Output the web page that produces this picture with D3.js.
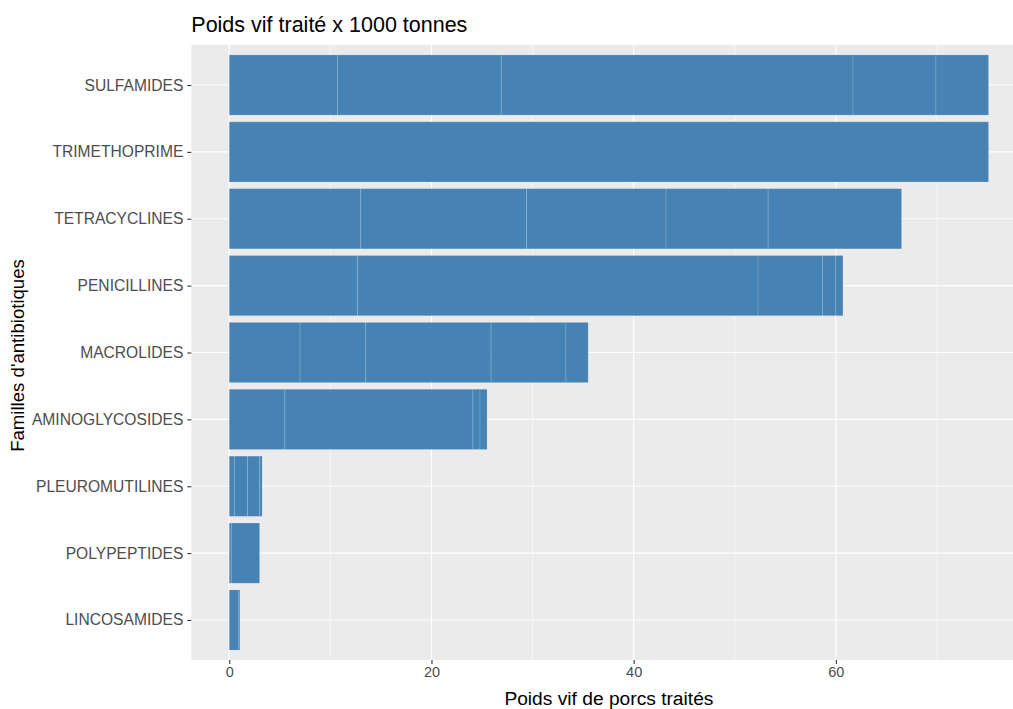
<!DOCTYPE html>
<html>
<head>
<meta charset="utf-8">
<script src="https://cdn.jsdelivr.net/npm/d3@7"></script>
<style>
  html, body { margin: 0; padding: 0; background: #fff; }
  svg { display: block; font-family: "Liberation Sans", Arial, sans-serif; }
</style>
</head>
<body>
<svg id="chart" width="1013" height="709"></svg>
<script>
// Categories (top to bottom)
const categories = ["SULFAMIDES", "TRIMETHOPRIME", "TETRACYCLINES", "PENICILLINES",
  "MACROLIDES", "AMINOGLYCOSIDES", "PLEUROMUTILINES", "POLYPEPTIDES", "LINCOSAMIDES"];

// Stacked segment values per category (x 1000 tonnes)
const sulfamides = [10.7, 16.2, 34.8, 8.2, 5.2];
const trimethoprime = [75.1];
const tetracyclines = [13.0, 16.4, 13.8, 10.1, 13.2];
const penicillines = [12.7, 39.6, 6.4, 1.3, 0.7];
const macrolides = [7.0, 6.5, 12.4, 7.4, 2.2];
const aminoglycosides = [5.5, 18.6, 0.7, 0.7];
const pleuromutilines = [0.5, 1.3, 1.2, 0.25];
const polypeptides = [0.2, 2.8];
const lincosamides = [0.95, 0.1];

const seriesValues = [sulfamides, trimethoprime, tetracyclines, penicillines,
  macrolides, aminoglycosides, pleuromutilines, polypeptides, lincosamides];

const xTicks = [0, 20, 40, 60];
const xMinorTicks = [10, 30, 50, 70];

const title = "Poids vif traité x 1000 tonnes";
const xTitle = "Poids vif de porcs traités";
const yTitle = "Familles d'antibiotiques";

// Build stacked segments
const segments = [];
categories.forEach((c, i) => {
  let acc = 0;
  seriesValues[i].forEach(v => {
    segments.push({cat: c, x0: acc, x1: acc + v});
    acc += v;
  });
});
const maxTotal = d3.max(seriesValues, s => d3.sum(s));

const svg = d3.select("#chart");
const panel = {left: 191.3, top: 44.9, bottom: 660.1};
const pxPerUnit = 10.11;
const span = maxTotal * 1.1;
panel.right = panel.left + span * pxPerUnit;

const x = d3.scaleLinear()
  .domain([-0.05 * maxTotal, maxTotal * 1.05])
  .range([panel.left, panel.right]);

// Discrete y: positions with 0.6 expansion on each side
const n = categories.length;
const step = (panel.bottom - panel.top) / (n - 1 + 1.2);
const y = d3.scalePoint()
  .domain(categories)
  .range([panel.top + 0.6 * step, panel.bottom - 0.6 * step]);
const barH = 0.9 * step;

// Panel background
svg.append("rect")
  .attr("x", panel.left).attr("y", panel.top)
  .attr("width", panel.right - panel.left).attr("height", panel.bottom - panel.top)
  .attr("fill", "#EBEBEB");

const grid = svg.append("g");
// minor x grid
grid.selectAll("line.minor").data(xMinorTicks).enter().append("line")
  .attr("x1", d => x(d)).attr("x2", d => x(d))
  .attr("y1", panel.top).attr("y2", panel.bottom)
  .attr("stroke", "#fff").attr("stroke-width", 0.55);
// major x grid
grid.selectAll("line.major").data(xTicks).enter().append("line")
  .attr("x1", d => x(d)).attr("x2", d => x(d))
  .attr("y1", panel.top).attr("y2", panel.bottom)
  .attr("stroke", "#fff").attr("stroke-width", 1.1);
// major y grid
grid.selectAll("line.ymajor").data(categories).enter().append("line")
  .attr("x1", panel.left).attr("x2", panel.right)
  .attr("y1", d => y(d)).attr("y2", d => y(d))
  .attr("stroke", "#fff").attr("stroke-width", 1.1);

// Bars
svg.append("g").selectAll("rect").data(segments).enter().append("rect")
  .attr("x", d => x(d.x0))
  .attr("width", d => x(d.x1) - x(d.x0))
  .attr("y", d => y(d.cat) - barH / 2)
  .attr("height", barH)
  .attr("fill", "#4682B4")
  .attr("stroke", "rgba(255,255,255,0.15)")
  .attr("stroke-width", 1);

// Axes
const xAxis = d3.axisBottom(x).tickValues(xTicks).tickSize(4).tickPadding(3).tickFormat(d3.format("d"));
const gx = svg.append("g").attr("transform", `translate(0,${panel.bottom})`).call(xAxis);
gx.select(".domain").remove();
gx.selectAll(".tick line").attr("stroke", "#333333").attr("stroke-width", 1.1);
gx.selectAll(".tick text").attr("fill", "#4D4D4D").style("font-size", "14.5px")
  .attr("font-family", "Liberation Sans, Arial, sans-serif");

const yAxis = d3.axisLeft(y).tickSize(4).tickPadding(4);
const gy = svg.append("g").attr("transform", `translate(${panel.left},0)`).call(yAxis);
gy.select(".domain").remove();
gy.selectAll(".tick line").attr("stroke", "#333333").attr("stroke-width", 1.1);
gy.selectAll(".tick text").attr("fill", "#4D4D4D").style("font-size", "15.6px")
  .attr("font-family", "Liberation Sans, Arial, sans-serif");

// Titles
svg.append("text")
  .attr("x", panel.left).attr("y", 32)
  .attr("fill", "#000").style("font-size", "21.5px")
  .text(title);

svg.append("text")
  .attr("x", (panel.left + panel.right) / 2).attr("y", 705)
  .attr("text-anchor", "middle")
  .attr("fill", "#000").style("font-size", "19.2px")
  .text(xTitle);

svg.append("text")
  .attr("transform", `translate(24,${(panel.top + panel.bottom) / 2 + 3}) rotate(-90)`)
  .attr("text-anchor", "middle")
  .attr("fill", "#000").style("font-size", "18.6px")
  .text(yTitle);
</script>
</body>
</html>
